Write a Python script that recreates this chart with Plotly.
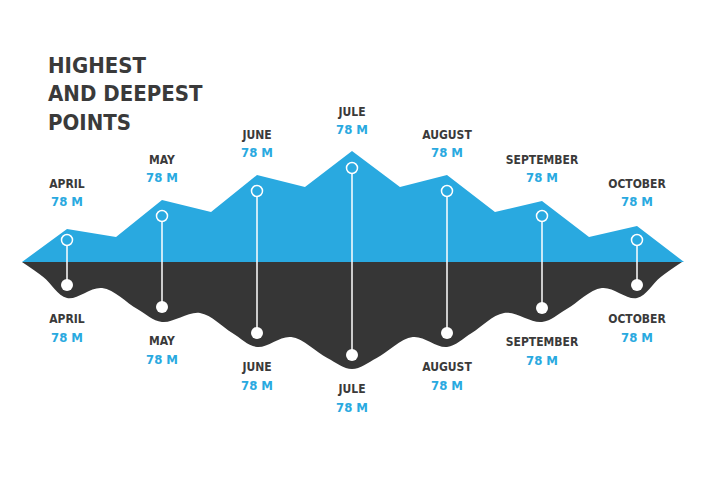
import plotly.graph_objects as go

# ---------------- data ----------------
months = ["APRIL", "MAY", "JUNE", "JULE", "AUGUST", "SEPTEMBER", "OCTOBER"]
value_labels = ["78 M", "78 M", "78 M", "78 M", "78 M", "78 M", "78 M"]

# mountain (highest) profile: x in month index units, y in height units above sea level line
mountain_x = [-0.474, 0.0, 0.516, 1.0, 1.516, 2.0, 2.505, 3.0, 3.505, 4.0, 4.505, 5.0, 5.495, 6.0, 6.495]
mountain_y = [0, 33, 25, 62, 50, 87, 75, 111, 75, 87, 50, 61, 25, 36, 0]

# highest point markers and deepest point markers
highest = [22, 46, 71, 94, 71, 46, 22]
deepest = [-23, -45, -71, -93, -71, -46, -23]

# depth (deepest) profile contour
depth_x = [-0.474, -0.25, 0.0, 0.37, 0.74, 1.0, 1.4, 1.74, 2.0, 2.36, 2.74, 3.0,
           3.26, 3.64, 4.0, 4.26, 4.6, 5.0, 5.26, 5.63, 6.0, 6.25, 6.474]
depth_y = [0, -15, -36, -26, -47, -60, -51, -71, -85, -75, -96, -107,
           -96, -75, -85, -71, -51, -60, -47, -26, -36, -15, 0]

title_lines = ["HIGHEST", "AND DEEPEST", "POINTS"]

# ---------------- style ----------------
BLUE = "#29a9e0"
DARK = "#363636"
TEXT = "#3a3a3a"
FONT = "DejaVu Sans Condensed, Liberation Sans Narrow, Arial Narrow, sans-serif"

idx = list(range(len(months)))

fig = go.Figure()

fig.add_trace(go.Scatter(x=mountain_x, y=mountain_y, mode="lines", fill="tozeroy",
                         fillcolor=BLUE, line=dict(color=BLUE, width=0),
                         hoverinfo="skip"))
fig.add_trace(go.Scatter(x=depth_x, y=depth_y, mode="lines", fill="tozeroy",
                         fillcolor=DARK, line=dict(color=DARK, width=0, shape="spline", smoothing=1.0),
                         hoverinfo="skip"))

# stems
sx, sy = [], []
for i in idx:
    sx += [i, i, None]
    sy += [highest[i], deepest[i], None]
fig.add_trace(go.Scatter(x=sx, y=sy, mode="lines", line=dict(color="white", width=1.5),
                         hoverinfo="skip"))

fig.add_trace(go.Scatter(x=idx, y=highest, mode="markers",
                         marker=dict(size=11, color=BLUE, line=dict(color="white", width=1.5)),
                         hoverinfo="skip"))
fig.add_trace(go.Scatter(x=idx, y=deepest, mode="markers",
                         marker=dict(size=12, color="white", line=dict(width=0)),
                         hoverinfo="skip"))

name_font = dict(family=FONT, size=12, color=TEXT, weight="bold")
val_font = dict(family=FONT, size=13, color=BLUE, weight="bold")

fig.add_trace(go.Scatter(x=idx, y=[h + 55 for h in highest], mode="text", text=months,
                         textposition="middle center", textfont=name_font, hoverinfo="skip"))
fig.add_trace(go.Scatter(x=idx, y=[h + 37 for h in highest], mode="text", text=value_labels,
                         textposition="middle center", textfont=val_font, hoverinfo="skip"))
fig.add_trace(go.Scatter(x=idx, y=[d - 35 for d in deepest], mode="text", text=months,
                         textposition="middle center", textfont=name_font, hoverinfo="skip"))
fig.add_trace(go.Scatter(x=idx, y=[d - 54 for d in deepest], mode="text", text=value_labels,
                         textposition="middle center", textfont=val_font, hoverinfo="skip"))

for k, line in enumerate(title_lines):
    fig.add_annotation(xref="paper", yref="paper", x=46 / 720, y=1 - (66 + 28 * k) / 480,
                       xanchor="left", yanchor="middle", text=line, showarrow=False,
                       font=dict(family=FONT, size=22, color=TEXT, weight="bold"))

fig.update_layout(
    width=720, height=480,
    margin=dict(l=0, r=0, t=0, b=0, pad=0),
    paper_bgcolor="white", plot_bgcolor="white",
    showlegend=False,
    xaxis=dict(range=[-67 / 95, 653 / 95], visible=False, fixedrange=True),
    yaxis=dict(range=[-218, 262], visible=False, fixedrange=True),
)

fig.write_html("out.html", config={"displayModeBar": False})
